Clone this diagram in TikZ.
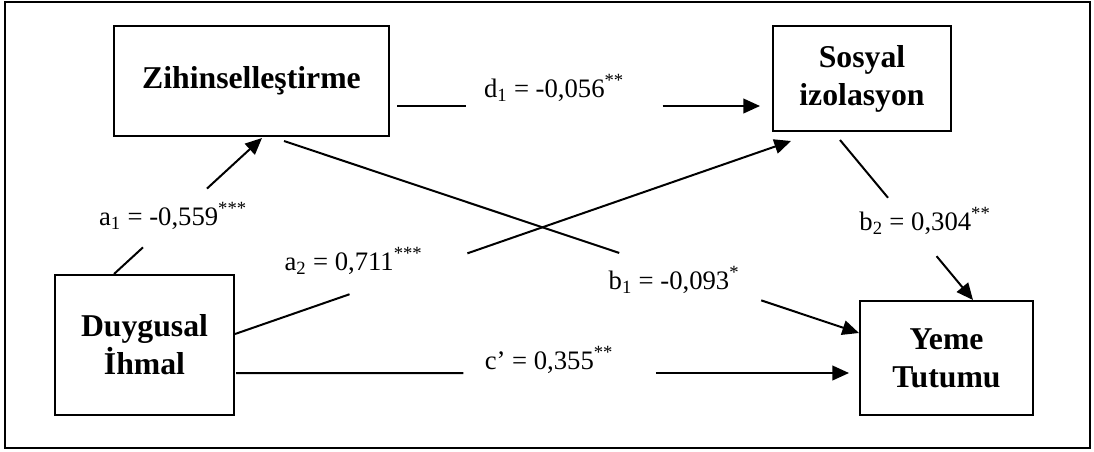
\documentclass[tikz,border=0pt]{standalone}
\usepackage{fontspec}
\setmainfont{Liberation Serif}
\usetikzlibrary{arrows.meta,calc}
\begin{document}
\begin{tikzpicture}[x=0.75pt,y=-0.75pt,
  box/.style={draw,line width=1.5pt,inner sep=0pt,align=center,
    font=\fontsize{23.8}{28.5}\selectfont\bfseries},
  lbl/.style={anchor=base,inner sep=0pt,font=\fontsize{20}{24}\selectfont},
  conn/.style={line width=1.5pt},
  arr/.style={conn,-{Triangle[length=12.5pt,width=11pt]}}]
\useasboundingbox (0,0) rectangle (1094,451);
\draw[line width=1.2pt] (5,2) rectangle (1090,448);

% boxes
\node[box,minimum width=206.25pt,minimum height=82.5pt] (Z) at (251.5,81) {Zihinselleştirme};
\node[box,minimum width=133.5pt,minimum height=78.75pt] (S) at (862,78.5) {Sosyal\\izolasyon};
\node[box,minimum width=134.25pt,minimum height=105pt] (D) at (144.5,345) {Duygusal\\İhmal};
\node[box,minimum width=129.75pt,minimum height=85.5pt] (Y) at (946.5,358) {Yeme\\Tutumu};

% end points on the boxes
\coordinate (a1s) at ($(D.north west)+(60,0)$);
\coordinate (a1e) at ($(Z.south west)+(149,1)$);
\coordinate (a2s) at ($(D.east)+(0,-11)$);
\coordinate (a2e) at ($(S.south west)+(19,9)$);
\coordinate (b1s) at ($(Z.south west)+(171,4)$);
\coordinate (b1e) at ($(Y.west)+(0,-25)$);
\coordinate (b2s) at ($(S.south west)+(68,8)$);
\coordinate (b2e) at ($(Y.north west)+(114,0)$);
\coordinate (d1s) at ($(Z.east)+(7,25)$);
\coordinate (d1e) at ($(S.west)+(-12,27.5)$);
\coordinate (cs) at ($(D.east)+(1,28)$);
\coordinate (ce) at ($(Y.west)+(-10,15)$);

% connectors, each broken around its label
\draw[conn] (a1s) -- ($(a1s)!0.196!(a1e)$);
\draw[arr] ($(a1s)!0.628!(a1e)$) -- (a1e);
\draw[conn] (a2s) -- ($(a2s)!0.206!(a2e)$);
\draw[arr] ($(a2s)!0.418!(a2e)$) -- (a2e);
\draw[conn] (b1s) -- ($(b1s)!0.583!(b1e)$);
\draw[arr] ($(b1s)!0.83!(b1e)$) -- (b1e);
\draw[conn] (b2s) -- ($(b2s)!0.361!(b2e)$);
\draw[arr] ($(b2s)!0.726!(b2e)$) -- (b2e);
\draw[conn] (d1s) -- ($(d1s)!0.189!(d1e)$);
\draw[arr] ($(d1s)!0.732!(d1e)$) -- (d1e);
\draw[conn] (cs) -- ($(cs)!0.371!(ce)$);
\draw[arr] ($(cs)!0.685!(ce)$) -- (ce);

% labels
\node[lbl] (la1) at (173,225) {a\textsubscript{1} = -0,559\textsuperscript{***}};
\node[lbl] (la2) at (353.5,270) {a\textsubscript{2} = 0,711\textsuperscript{***}};
\node[lbl] (ld1) at (554,97) {d\textsubscript{1} = -0,056\textsuperscript{**}};
\node[lbl] (lb1) at (674,289) {b\textsubscript{1} = -0,093\textsuperscript{*}};
\node[lbl] (lb2) at (925,230) {b\textsubscript{2} = 0,304\textsuperscript{**}};
\node[lbl] (lc) at (549,369) {c’ = 0,355\textsuperscript{**}};
\end{tikzpicture}
\end{document}
